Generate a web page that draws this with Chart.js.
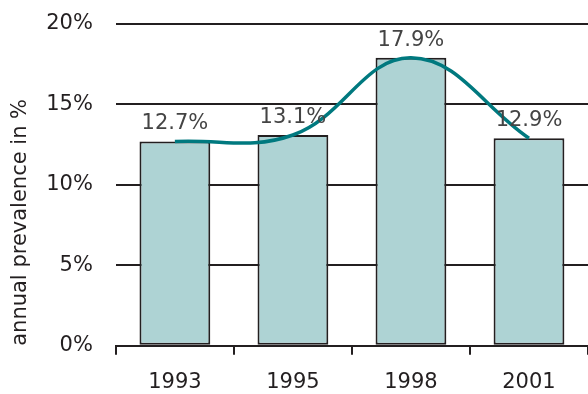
<!DOCTYPE html>
<html>
<head>
<meta charset="utf-8">
<script src="https://cdn.jsdelivr.net/npm/chart.js@4/dist/chart.umd.min.js"></script>
<style>
  html, body { margin: 0; padding: 0; background: #fff; }
  #wrap { width: 588px; height: 394px; }
</style>
</head>
<body>
<div id="wrap"><canvas id="prevalence_chart" width="588" height="394"></canvas></div>
<script>
var years = ["1993", "1995", "1998", "2001"];
var prevalence = [12.7, 13.1, 17.9, 12.9];
var yTicks = [0, 5, 10, 15, 20];

var ink = "#231f20";
var fontFamily = "'DejaVu Sans', sans-serif";

// labels above the bars ("12.7%")
var barLabels = {
    id: "barLabels",
    afterDatasetsDraw: function (chart) {
        var ctx = chart.ctx;
        var meta = chart.getDatasetMeta(1);
        ctx.save();
        ctx.font = "21px " + fontFamily;
        ctx.fillStyle = "#444444";
        ctx.textAlign = "center";
        ctx.textBaseline = "bottom";
        meta.data.forEach(function (bar, i) {
            ctx.fillText(prevalence[i].toFixed(1) + "%", bar.x, bar.y - 7);
        });
        ctx.restore();
    }
};

var chart = document.getElementById("prevalence_chart");
if (chart != null) {
    var ctxChart = chart.getContext("2d");
    var myChart = new Chart(ctxChart, {
        type: "bar",
        data: {
            labels: years,
            datasets: [
                {
                    type: "line",
                    data: prevalence,
                    borderColor: "#00797f",
                    borderWidth: 3.5,
                    tension: 0.4,
                    pointRadius: 0,
                    fill: false,
                    order: 1,
                },
                {
                    data: prevalence,
                    backgroundColor: "#aed3d4",
                    borderColor: ink,
                    borderWidth: 2,
                    borderSkipped: false,
                    barPercentage: 0.6,
                    categoryPercentage: 1,
                    order: 2,
                },
            ],
        },
        plugins: [barLabels],
        options: {
            responsive: false,
            animation: false,
            layout: {
                padding: { top: 24, right: 0, left: 0, bottom: -16 },
            },
            plugins: {
                legend: { display: false },
                tooltip: { enabled: false },
            },
            scales: {
                y: {
                    min: 0,
                    max: 20,
                    afterBuildTicks: function (axis) {
                        axis.ticks = yTicks.map(function (v) { return { value: v }; });
                    },
                    border: { display: false },
                    grid: {
                        color: ink,
                        lineWidth: 2,
                        drawTicks: true,
                        tickLength: 23,
                        tickColor: "rgba(0,0,0,0)",
                    },
                    ticks: {
                        color: ink,
                        padding: 0,
                        font: { size: 21, family: fontFamily },
                        callback: function (v) { return v + "%"; },
                    },
                    title: {
                        display: true,
                        text: "annual prevalence in %",
                        align: "start",
                        color: ink,
                        padding: { top: 8, bottom: 13 },
                        font: { size: 21, family: fontFamily },
                    },
                },
                x: {
                    border: { display: true, color: ink, width: 2 },
                    grid: {
                        offset: true,
                        drawOnChartArea: false,
                        drawTicks: true,
                        tickLength: 9,
                        color: ink,
                        lineWidth: 2,
                    },
                    ticks: {
                        color: ink,
                        padding: 15,
                        font: { size: 21, family: fontFamily },
                    },
                },
            },
        },
    });
}
</script>
</body>
</html>
